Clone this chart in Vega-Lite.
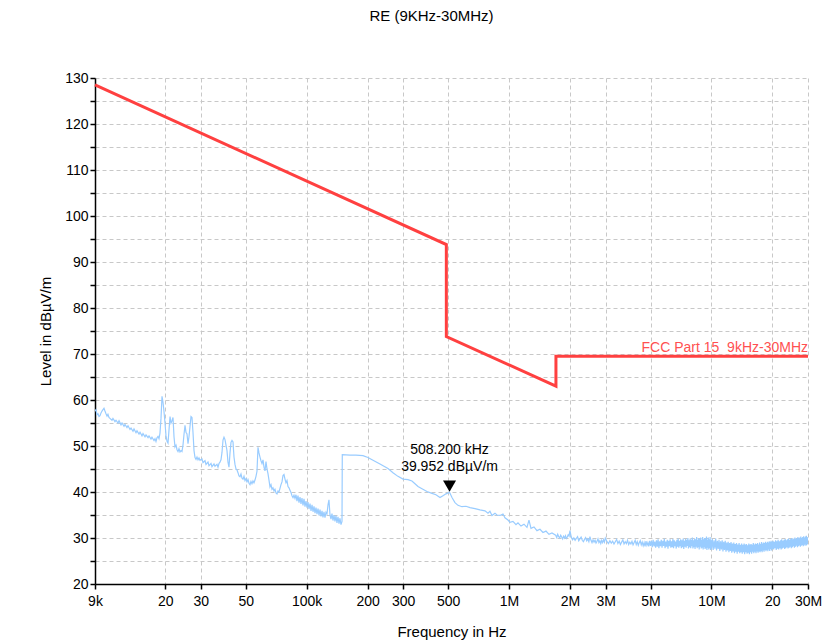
{
  "$schema": "https://vega.github.io/schema/vega-lite/v6.json",
  "width": 713,
  "height": 506,
  "autosize": {"type": "none"},
  "padding": {"left": 95, "top": 78, "right": 27, "bottom": 59},
  "background": "white",
  "title": {"text": "RE (9KHz-30MHz)", "anchor": "middle", "frame": "group", "offset": 47, "dx": -20, "font": "Liberation Sans", "fontSize": 15, "fontWeight": "normal", "color": "#000000"},
  "datasets": {
    "limit": [
      {"i": 1, "f": 9, "v": 128.5},
      {"i": 2, "f": 490, "v": 93.8},
      {"i": 3, "f": 490, "v": 73.8},
      {"i": 4, "f": 1705, "v": 63.0},
      {"i": 5, "f": 1705, "v": 69.5},
      {"i": 6, "f": 30000, "v": 69.5}
    ],
    "limitLabel": [{"f": 30000, "v": 69.5, "label": "FCC Part 15 \u00a09kHz-30MHz"}],
    "marker": [{"f": 508.2, "v": 39.952, "label": "508.200 kHz\n39.952 dBµV/m"}],
    "trace": [
      {"f":9.00,"v":57.6},{"f":9.103,"v":57.9},{"f":9.207,"v":56.8},{"f":9.313,"v":57.0},{"f":9.419,"v":56.4},{"f":9.527,"v":56.6},{"f":9.636,"v":57.2},{"f":9.746,"v":57.6},{"f":9.858,"v":57.9},{"f":9.970,"v":58.2},
      {"f":10.08,"v":57.6},{"f":10.20,"v":57.0},{"f":10.32,"v":56.5},{"f":10.43,"v":56.9},{"f":10.55,"v":56.2},{"f":10.67,"v":56.0},{"f":10.92,"v":55.6},{"f":11.04,"v":56.0},{"f":11.30,"v":55.3},{"f":11.43,"v":55.6},
      {"f":11.69,"v":55.0},{"f":11.83,"v":55.5},{"f":12.10,"v":54.6},{"f":12.24,"v":55.0},{"f":12.52,"v":54.3},{"f":12.66,"v":54.7},{"f":12.95,"v":54.0},{"f":13.10,"v":54.4},{"f":13.40,"v":53.6},{"f":13.56,"v":53.9},
      {"f":13.87,"v":53.2},{"f":14.03,"v":53.7},{"f":14.35,"v":52.9},{"f":14.51,"v":53.3},{"f":14.85,"v":52.6},{"f":15.02,"v":53.0},{"f":15.36,"v":52.2},{"f":15.54,"v":52.7},{"f":15.90,"v":52.0},{"f":16.08,"v":52.4},
      {"f":16.45,"v":51.8},{"f":16.64,"v":52.2},{"f":17.02,"v":51.5},{"f":17.21,"v":51.9},{"f":17.61,"v":51.2},{"f":17.81,"v":51.6},{"f":18.01,"v":51.0},{"f":18.22,"v":51.8},{"f":18.43,"v":52.1},{"f":18.64,"v":51.6},
      {"f":18.85,"v":52.8},{"f":19.07,"v":56.0},{"f":19.29,"v":60.8},{"f":19.51,"v":59.5},{"f":19.73,"v":57.5},{"f":19.96,"v":55.0},{"f":20.19,"v":52.2},{"f":20.42,"v":51.0},{"f":20.65,"v":50.6},{"f":20.89,"v":53.5},
      {"f":21.13,"v":56.4},{"f":21.37,"v":55.0},{"f":21.61,"v":55.5},{"f":21.86,"v":56.2},{"f":22.11,"v":52.0},{"f":22.36,"v":49.8},{"f":22.62,"v":50.2},{"f":22.88,"v":49.2},{"f":23.14,"v":48.8},{"f":23.40,"v":49.4},
      {"f":23.67,"v":48.7},{"f":23.94,"v":49.0},{"f":24.21,"v":48.8},{"f":24.49,"v":50.2},{"f":24.77,"v":52.5},{"f":25.06,"v":54.5},{"f":25.34,"v":53.0},{"f":25.63,"v":52.6},{"f":25.93,"v":50.5},{"f":26.22,"v":52.0},
      {"f":26.52,"v":54.2},{"f":26.83,"v":56.4},{"f":27.13,"v":56.2},{"f":27.44,"v":53.0},{"f":27.76,"v":49.0},{"f":28.08,"v":47.5},{"f":28.40,"v":47.1},{"f":28.72,"v":47.6},{"f":29.05,"v":47.0},{"f":29.38,"v":47.4},
      {"f":29.72,"v":46.9},{"f":30.40,"v":47.2},{"f":30.75,"v":46.4},{"f":31.46,"v":46.8},{"f":31.82,"v":46.0},{"f":32.55,"v":46.5},{"f":32.92,"v":45.7},{"f":33.68,"v":46.2},{"f":34.06,"v":45.5},{"f":34.85,"v":46.1},
      {"f":35.25,"v":45.6},{"f":36.06,"v":46.0},{"f":36.47,"v":45.4},{"f":36.89,"v":46.2},{"f":37.31,"v":46.5},{"f":37.74,"v":47.0},{"f":38.17,"v":48.6},{"f":38.61,"v":51.3},{"f":39.05,"v":51.9},{"f":39.49,"v":51.4},
      {"f":39.95,"v":50.2},{"f":40.40,"v":49.0},{"f":40.86,"v":46.5},{"f":41.33,"v":45.4},{"f":41.81,"v":48.5},{"f":42.28,"v":50.8},{"f":42.77,"v":51.2},{"f":43.26,"v":50.9},{"f":43.75,"v":47.6},{"f":44.25,"v":46.0},
      {"f":44.76,"v":45.0},{"f":45.27,"v":44.8},{"f":45.79,"v":44.2},{"f":46.31,"v":43.5},{"f":46.84,"v":43.3},{"f":47.38,"v":43.9},{"f":47.92,"v":43.0},{"f":48.47,"v":42.8},{"f":49.02,"v":43.4},{"f":49.58,"v":42.5},
      {"f":50.15,"v":42.9},{"f":50.72,"v":42.2},{"f":51.30,"v":42.7},{"f":51.89,"v":41.9},{"f":52.48,"v":41.6},{"f":53.08,"v":42.3},{"f":53.69,"v":41.8},{"f":54.30,"v":42.4},{"f":54.93,"v":42.0},{"f":55.56,"v":42.6},
      {"f":56.19,"v":43.4},{"f":56.84,"v":44.5},{"f":57.49,"v":49.7},{"f":58.14,"v":48.5},{"f":58.81,"v":47.6},{"f":59.48,"v":46.8},{"f":60.16,"v":46.2},{"f":60.85,"v":47.0},{"f":61.55,"v":45.4},{"f":62.25,"v":44.6},
      {"f":62.96,"v":46.6},{"f":63.68,"v":45.0},{"f":64.41,"v":44.0},{"f":65.15,"v":42.6},{"f":65.89,"v":41.1},{"f":66.65,"v":41.6},{"f":67.41,"v":40.6},{"f":68.18,"v":40.9},{"f":68.96,"v":40.2},{"f":69.75,"v":40.6},
      {"f":70.55,"v":39.8},{"f":71.36,"v":39.6},{"f":72.17,"v":40.2},{"f":73.00,"v":40.0},{"f":73.83,"v":40.8},{"f":74.68,"v":41.6},{"f":75.53,"v":42.2},{"f":76.40,"v":43.6},{"f":77.27,"v":43.8},{"f":78.16,"v":42.8},
      {"f":79.05,"v":42.0},{"f":79.96,"v":42.5},{"f":80.87,"v":41.2},{"f":81.80,"v":40.9},{"f":82.73,"v":40.4},{"f":83.68,"v":39.9},{"f":84.64,"v":39.2},{"f":85.61,"v":38.8},{"f":86.59,"v":39.3},{"f":87.57,"v":38.6},
      {"f":88.58,"v":39.4},{"f":89.59,"v":38.0},{"f":90.62,"v":39.2},{"f":91.65,"v":37.7},{"f":92.70,"v":38.9},{"f":93.76,"v":37.4},{"f":94.83,"v":38.7},{"f":95.92,"v":37.1},{"f":97.02,"v":38.5},{"f":98.13,"v":36.8},
      {"f":99.25,"v":38.0},{"f":100.4,"v":36.6},{"f":101.5,"v":37.8},{"f":102.7,"v":36.3},{"f":103.9,"v":37.5},{"f":105.1,"v":35.9},{"f":106.3,"v":37.2},{"f":107.5,"v":35.7},{"f":108.7,"v":36.9},{"f":110.0,"v":35.4},
      {"f":111.2,"v":36.6},{"f":112.5,"v":35.2},{"f":113.8,"v":36.4},{"f":115.1,"v":34.9},{"f":116.4,"v":36.2},{"f":117.7,"v":34.7},{"f":119.1,"v":35.9},{"f":120.4,"v":34.5},{"f":121.8,"v":35.7},{"f":123.2,"v":34.4},
      {"f":124.6,"v":35.6},{"f":126.0,"v":35.2},{"f":127.5,"v":37.2},{"f":128.9,"v":38.3},{"f":130.4,"v":35.0},{"f":131.9,"v":34.1},{"f":133.4,"v":35.3},{"f":134.9,"v":33.8},{"f":136.5,"v":35.0},{"f":138.0,"v":33.6},
      {"f":139.6,"v":34.8},{"f":141.2,"v":33.3},{"f":142.8,"v":34.6},{"f":144.5,"v":33.1},{"f":146.1,"v":34.3},{"f":147.8,"v":32.9},{"f":149.5,"v":33.6},
      {"f":150.0,"v":48.1},{"f":163.7,"v":48.0},{"f":175.3,"v":48.0},{"f":189.8,"v":47.9},{"f":200.9,"v":47.5},{"f":212.7,"v":46.9},{"f":230.3,"v":46.1},{"f":252.3,"v":45.1},{"f":267.0,"v":44.2},{"f":282.6,"v":43.4},
      {"f":299.2,"v":42.8},{"f":316.7,"v":42.7},{"f":331.4,"v":42.4},{"f":343.0,"v":41.8},{"f":354.9,"v":41.2},{"f":371.4,"v":40.7},{"f":393.1,"v":40.1},{"f":416.1,"v":39.7},{"f":435.5,"v":39.4},{"f":455.8,"v":38.8},
      {"f":471.6,"v":39.2},{"f":488.0,"v":39.6},{"f":508.2,"v":39.95},{"f":522.5,"v":38.8},{"f":540.6,"v":37.7},{"f":559.4,"v":37.1},{"f":585.4,"v":36.8},{"f":612.6,"v":36.9},{"f":641.2,"v":36.6},{"f":678.7,"v":36.4},
      {"f":718.4,"v":36.1},{"f":760.5,"v":35.9},{"f":786.9,"v":35.4},{"f":805.0,"v":35.8},{"f":823.5,"v":34.9},{"f":852.1,"v":35.4},{"f":871.7,"v":35.0},{"f":902.0,"v":34.9},{"f":933.3,"v":35.2},{"f":954.7,"v":34.4},
      {"f":987.9,"v":33.9},{"f":1010.6,"v":33.4},{"f":1045.7,"v":33.6},{"f":1082.0,"v":32.9},{"f":1107.0,"v":33.3},{"f":1145.4,"v":32.6},{"f":1185.2,"v":33.0},{"f":1226.3,"v":32.3},{"f":1254.5,"v":33.9},{"f":1283.4,"v":32.1},
      {"f":1328.0,"v":32.4},{"f":1374.0,"v":31.6},{"f":1421.7,"v":31.9},{"f":1471.1,"v":31.2},{"f":1522.1,"v":31.5},{"f":1575.0,"v":30.8},{"f":1629.7,"v":31.1},
      {"f":1700,"v":30.6},{"f":1720,"v":30.1},{"f":1740,"v":30.8},{"f":1760,"v":30.3},{"f":1780,"v":30.0},{"f":1800,"v":30.6},{"f":1820,"v":30.2},{"f":1840,"v":29.8},{"f":1860,"v":30.4},{"f":1880,"v":30.0},
      {"f":1900,"v":30.5},{"f":1920,"v":29.9},{"f":1940,"v":30.2},{"f":1960,"v":30.7},{"f":1980,"v":30.4},{"f":2000,"v":31.6},
      {"f":2030,"v":30.2},{"f":2060,"v":29.6},{"f":2090,"v":30.0},{"f":2120,"v":29.5},{"f":2150,"v":29.9},{"f":2180,"v":30.3},{"f":2210,"v":29.4},{"f":2240,"v":29.8},{"f":2270,"v":30.2},{"f":2300,"v":29.5},
      {"f":2330,"v":29.2},{"f":2360,"v":29.7},{"f":2390,"v":30.1},{"f":2420,"v":29.4},{"f":2450,"v":29.8},{"f":2480,"v":29.2},{"f":2510,"v":30.3},{"f":2540,"v":29.5},{"f":2570,"v":29.0},{"f":2600,"v":29.6},
      {"f":2630,"v":29.1},{"f":2660,"v":29.5},{"f":2690,"v":28.9},{"f":2720,"v":29.3},{"f":2750,"v":29.8},{"f":2780,"v":29.0},{"f":2810,"v":29.4},{"f":2840,"v":28.8},{"f":2870,"v":29.5},{"f":2900,"v":29.0},
      {"f":2930,"v":29.6},{"f":2960,"v":29.1},{"f":2990,"v":30.0},
      {"f":3050,"v":29.2},{"f":3100,"v":28.8},{"f":3150,"v":29.4},{"f":3200,"v":28.9},{"f":3250,"v":29.3},{"f":3300,"v":28.7},{"f":3350,"v":29.2},{"f":3400,"v":29.7},{"f":3450,"v":28.8},{"f":3500,"v":29.3},
      {"f":3550,"v":28.6},{"f":3600,"v":29.1},{"f":3650,"v":29.6},{"f":3700,"v":28.7},{"f":3750,"v":29.2},{"f":3800,"v":28.8},{"f":3850,"v":29.5},{"f":3900,"v":28.6},{"f":3950,"v":29.1},{"f":4000,"v":28.7},
      {"f":4050,"v":29.3},{"f":4100,"v":28.5},{"f":4150,"v":29.0},{"f":4200,"v":29.5},{"f":4250,"v":28.6},{"f":4300,"v":29.2},{"f":4350,"v":28.4},{"f":4400,"v":29.0},{"f":4450,"v":29.4},{"f":4500,"v":28.5},
      {"f":4550,"v":29.1},{"f":4600,"v":28.3},{"f":4650,"v":29.0},{"f":4700,"v":28.2},{"f":4750,"v":29.3},{"f":4800,"v":28.4},{"f":4850,"v":29.0},{"f":4900,"v":28.2},{"f":4950,"v":29.4},
      {"f":5000,"v":28.3},{"f":5050,"v":29.4},{"f":5100,"v":28.0},{"f":5150,"v":29.6},{"f":5200,"v":28.2},{"f":5250,"v":29.2},{"f":5300,"v":27.9},{"f":5350,"v":29.5},{"f":5400,"v":28.1},{"f":5450,"v":29.7},
      {"f":5500,"v":27.8},{"f":5550,"v":29.3},{"f":5600,"v":28.2},{"f":5650,"v":29.6},{"f":5700,"v":27.9},{"f":5750,"v":29.4},{"f":5800,"v":28.3},{"f":5850,"v":29.8},{"f":5900,"v":27.8},{"f":5950,"v":29.2},
      {"f":6000,"v":28.1},{"f":6050,"v":29.6},{"f":6100,"v":27.7},{"f":6150,"v":29.4},{"f":6200,"v":28.2},{"f":6250,"v":29.7},{"f":6300,"v":27.9},{"f":6350,"v":29.3},{"f":6400,"v":28.0},{"f":6450,"v":29.8},
      {"f":6500,"v":27.8},{"f":6550,"v":29.5},{"f":6600,"v":28.2},{"f":6650,"v":29.2},{"f":6700,"v":27.7},{"f":6750,"v":29.6},{"f":6800,"v":28.1},{"f":6850,"v":29.9},{"f":6900,"v":27.9},{"f":6950,"v":29.4},
      {"f":7000,"v":28.2},{"f":7050,"v":29.7},{"f":7100,"v":27.8},{"f":7150,"v":29.5},{"f":7200,"v":28.0},{"f":7250,"v":29.9},{"f":7300,"v":27.6},{"f":7350,"v":29.4},{"f":7400,"v":28.1},{"f":7450,"v":29.8},
      {"f":7500,"v":27.9},{"f":7550,"v":29.6},{"f":7600,"v":28.3},{"f":7650,"v":30.0},{"f":7700,"v":27.7},{"f":7750,"v":29.5},{"f":7800,"v":28.0},{"f":7850,"v":29.9},{"f":7900,"v":27.8},{"f":7950,"v":29.6},
      {"f":8000,"v":28.2},{"f":8050,"v":30.1},{"f":8100,"v":27.7},{"f":8150,"v":29.5},{"f":8200,"v":28.0},{"f":8250,"v":29.9},{"f":8300,"v":27.6},{"f":8350,"v":29.7},{"f":8400,"v":28.1},{"f":8450,"v":30.2},
      {"f":8500,"v":27.8},{"f":8550,"v":29.6},{"f":8600,"v":28.0},{"f":8650,"v":30.0},{"f":8700,"v":27.5},{"f":8750,"v":29.8},{"f":8800,"v":28.1},{"f":8850,"v":30.1},{"f":8900,"v":27.7},{"f":8950,"v":29.6},
      {"f":9000,"v":27.9},{"f":9050,"v":30.2},{"f":9100,"v":27.5},{"f":9150,"v":29.7},{"f":9200,"v":28.0},{"f":9250,"v":30.0},{"f":9300,"v":27.6},{"f":9350,"v":29.9},{"f":9400,"v":27.8},{"f":9450,"v":30.3},
      {"f":9500,"v":27.4},{"f":9550,"v":29.6},{"f":9600,"v":27.9},{"f":9650,"v":30.1},{"f":9700,"v":27.5},{"f":9750,"v":29.7},{"f":9800,"v":27.8},{"f":9850,"v":30.2},{"f":9900,"v":27.4},{"f":9950,"v":29.5},
      {"f":10000,"v":27.7},{"f":10100,"v":29.8},{"f":10200,"v":27.4},{"f":10300,"v":29.5},{"f":10400,"v":27.7},{"f":10500,"v":29.9},{"f":10600,"v":27.3},{"f":10700,"v":29.4},{"f":10800,"v":27.6},{"f":10900,"v":29.6},
      {"f":11000,"v":27.2},{"f":11100,"v":29.3},{"f":11200,"v":27.5},{"f":11300,"v":29.5},{"f":11400,"v":27.1},{"f":11500,"v":29.2},{"f":11600,"v":27.4},{"f":11700,"v":29.4},{"f":11800,"v":27.0},{"f":11900,"v":29.0},
      {"f":12000,"v":27.3},{"f":12100,"v":29.2},{"f":12200,"v":26.9},{"f":12300,"v":28.9},{"f":12400,"v":27.2},{"f":12500,"v":29.1},{"f":12600,"v":26.8},{"f":12700,"v":28.8},{"f":12800,"v":27.1},{"f":12900,"v":29.0},
      {"f":13000,"v":26.7},{"f":13100,"v":28.7},{"f":13200,"v":27.0},{"f":13300,"v":28.9},{"f":13400,"v":26.6},{"f":13500,"v":28.6},{"f":13600,"v":27.0},{"f":13700,"v":28.9},{"f":13800,"v":26.7},{"f":13900,"v":28.5},
      {"f":14000,"v":26.9},{"f":14100,"v":28.8},{"f":14200,"v":26.6},{"f":14300,"v":28.5},{"f":14400,"v":26.9},{"f":14500,"v":28.8},{"f":14600,"v":26.5},{"f":14700,"v":28.6},{"f":14800,"v":26.9},{"f":14900,"v":28.7},
      {"f":15000,"v":26.6},{"f":15100,"v":28.4},{"f":15200,"v":26.8},{"f":15300,"v":28.8},{"f":15400,"v":26.5},{"f":15500,"v":28.6},{"f":15600,"v":26.9},{"f":15700,"v":28.7},{"f":15800,"v":26.6},{"f":15900,"v":28.5},
      {"f":16000,"v":27.0},{"f":16100,"v":28.9},{"f":16200,"v":26.7},{"f":16300,"v":28.6},{"f":16400,"v":27.0},{"f":16500,"v":28.8},{"f":16600,"v":26.7},{"f":16700,"v":28.7},{"f":16800,"v":27.1},{"f":16900,"v":28.9},
      {"f":17000,"v":26.8},{"f":17100,"v":28.6},{"f":17200,"v":27.1},{"f":17300,"v":29.0},{"f":17400,"v":26.9},{"f":17500,"v":28.7},{"f":17600,"v":27.2},{"f":17700,"v":29.1},{"f":17800,"v":26.9},{"f":17900,"v":28.8},
      {"f":18000,"v":27.3},{"f":18100,"v":29.0},{"f":18200,"v":27.0},{"f":18300,"v":28.9},{"f":18400,"v":27.4},{"f":18500,"v":29.2},{"f":18600,"v":27.1},{"f":18700,"v":28.9},{"f":18800,"v":27.4},{"f":18900,"v":29.2},
      {"f":19000,"v":27.1},{"f":19100,"v":29.0},{"f":19200,"v":27.5},{"f":19300,"v":29.3},{"f":19400,"v":27.2},{"f":19500,"v":29.1},{"f":19600,"v":27.6},{"f":19700,"v":29.4},{"f":19800,"v":27.3},{"f":19900,"v":29.2},
      {"f":20000,"v":27.6},{"f":20150,"v":29.4},{"f":20300,"v":27.5},{"f":20450,"v":29.2},{"f":20600,"v":27.8},{"f":20750,"v":29.5},{"f":20900,"v":27.4},{"f":21050,"v":29.3},{"f":21200,"v":27.7},{"f":21350,"v":29.6},
      {"f":21500,"v":27.5},{"f":21650,"v":29.3},{"f":21800,"v":27.8},{"f":21950,"v":29.5},{"f":22100,"v":27.5},{"f":22250,"v":29.7},{"f":22400,"v":27.7},{"f":22550,"v":29.4},{"f":22700,"v":27.9},{"f":22850,"v":29.6},
      {"f":23000,"v":27.6},{"f":23150,"v":29.8},{"f":23300,"v":27.8},{"f":23450,"v":29.5},{"f":23600,"v":28.0},{"f":23750,"v":29.7},{"f":23900,"v":27.7},{"f":24050,"v":29.9},{"f":24200,"v":27.9},{"f":24350,"v":29.6},
      {"f":24500,"v":28.1},{"f":24650,"v":29.8},{"f":24800,"v":27.8},{"f":24950,"v":30.0},{"f":25100,"v":28.0},{"f":25250,"v":29.7},{"f":25400,"v":28.2},{"f":25550,"v":29.9},{"f":25700,"v":27.9},{"f":25850,"v":30.1},
      {"f":26000,"v":28.1},{"f":26150,"v":29.8},{"f":26300,"v":28.3},{"f":26450,"v":30.0},{"f":26600,"v":28.0},{"f":26750,"v":30.2},{"f":26900,"v":28.2},{"f":27050,"v":29.9},{"f":27200,"v":28.4},{"f":27350,"v":30.1},
      {"f":27500,"v":28.1},{"f":27650,"v":30.3},{"f":27800,"v":28.3},{"f":27950,"v":30.0},{"f":28100,"v":28.5},{"f":28250,"v":30.2},{"f":28400,"v":28.2},{"f":28550,"v":30.4},{"f":28700,"v":28.4},{"f":28850,"v":30.1},
      {"f":29000,"v":28.6},{"f":29150,"v":30.3},{"f":29300,"v":28.3},{"f":29450,"v":30.5},{"f":29600,"v":28.5},{"f":29750,"v":30.2},{"f":29900,"v":28.7},{"f":30000,"v":29.8}
    ]
  },
  "encoding": {
    "x": {
      "field": "f", "type": "quantitative",
      "scale": {"type": "log", "domain": [9, 30000], "nice": false},
      "axis": {
        "title": "Frequency in Hz",
        "values": [9, 20, 30, 50, 100, 200, 300, 500, 1000, 2000, 3000, 5000, 10000, 20000, 30000],
        "labelExpr": "datum.value == 9 ? '9k' : datum.value == 100 ? '100k' : datum.value == 20000 ? '20' : datum.value >= 1000 ? format(datum.value / 1000, 'd') + 'M' : format(datum.value, 'd')",
        "labelFlush": false, "labelOverlap": false, "labelPadding": 5, "titlePadding": 16
      }
    },
    "y": {
      "field": "v", "type": "quantitative",
      "scale": {"domain": [20, 130], "nice": false, "zero": false},
      "axis": {
        "title": "Level in dBµV/m",
        "values": [20, 25, 30, 35, 40, 45, 50, 55, 60, 65, 70, 75, 80, 85, 90, 95, 100, 105, 110, 115, 120, 125, 130],
        "labelExpr": "datum.value % 10 == 0 ? format(datum.value, 'd') : ''",
        "labelPadding": 2, "titlePadding": 11, "labelOverlap": false
      }
    }
  },
  "layer": [
    {"data": {"name": "trace"}, "mark": {"type": "line", "color": "#99ccff", "strokeWidth": 1.2, "clip": true}},
    {"data": {"name": "limit"}, "mark": {"type": "line", "color": "#ff4040", "strokeWidth": 3}, "encoding": {"order": {"field": "i", "type": "quantitative"}}},
    {"data": {"name": "limitLabel"}, "mark": {"type": "text", "align": "right", "baseline": "alphabetic", "dy": -4, "fontSize": 14, "color": "#ff5050"}, "encoding": {"text": {"field": "label"}}},
    {"data": {"name": "marker"}, "mark": {"type": "point", "shape": "triangle-down", "filled": true, "color": "#000000", "opacity": 1, "size": 170, "yOffset": -6}},
    {"data": {"name": "marker"}, "mark": {"type": "text", "align": "center", "baseline": "bottom", "dy": -35, "lineHeight": 17, "lineBreak": "\n", "fontSize": 14, "color": "#000000"}, "encoding": {"text": {"field": "label"}}}
  ],
  "config": {
    "view": {"stroke": null},
    "font": "Liberation Sans",
    "axis": {
      "labelFont": "Liberation Sans", "titleFont": "Liberation Sans",
      "labelFontSize": 14, "titleFontSize": 15, "titleFontWeight": "normal",
      "labelColor": "#000000", "titleColor": "#000000",
      "domainColor": "#000000", "domainWidth": 1.5,
      "tickColor": "#000000", "tickWidth": 1.5, "tickSize": 5,
      "gridColor": "#c8c8c8", "gridDash": [4, 3], "gridWidth": 1
    },
    "text": {"font": "Liberation Sans"}
  }
}
